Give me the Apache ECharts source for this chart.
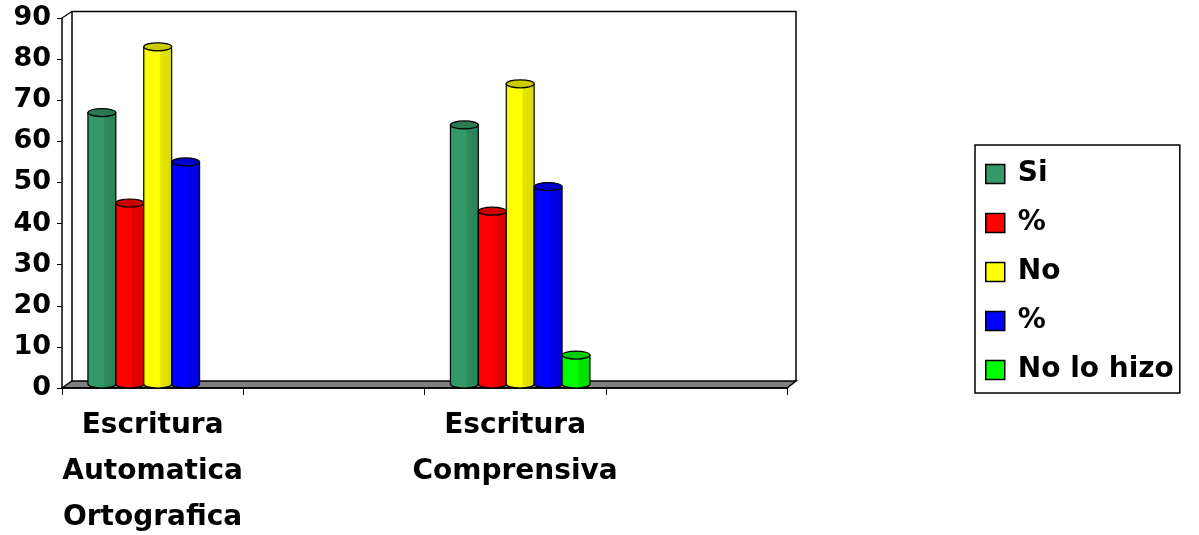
<!DOCTYPE html>
<html>
<head>
<meta charset="utf-8">
<script src="https://cdn.jsdelivr.net/npm/echarts@6/dist/echarts.min.js"></script>
<style>
html,body{margin:0;padding:0;background:#fff;}
#chart{width:1199px;height:535px;}
</style>
</head>
<body>
<div id="chart"></div>
<script>
// ---- data ----
const categories = ["Escritura\nAutomatica\nOrtografica", "", "Escritura\nComprensiva", ""];
// the two "%" series get distinct internal ids; the legend shows the plain label
const seriesNames = ["Si", "%", "No", "% ", "No lo hizo"];
const siValues = [67, null, 64, null];
const pctSiValues = [45, null, 43, null];
const noValues = [83, null, 74, null];
const pctNoValues = [55, null, 49, null];
const noLoHizoValues = [null, null, 8, null];
const yTicks = [0, 10, 20, 30, 40, 50, 60, 70, 80, 90];

// ---- styles / layout ----
const seriesData = [siValues, pctSiValues, noValues, pctNoValues, noLoHizoValues];
const colors = ["#339966", "#FF0000", "#FFFF00", "#0000FF", "#00FF00"];
const FONT = "DejaVu Sans";
const W = 1199, H = 535;
const GL = 62, GR = 787, GT = 18, GB = 388;
const DX = 10, DY = 7;

function shade(hex, f) {
  const n = parseInt(hex.slice(1), 16);
  const r = Math.round(((n >> 16) & 255) * f), g = Math.round(((n >> 8) & 255) * f), b = Math.round((n & 255) * f);
  return "rgb(" + r + "," + g + "," + b + ")";
}

const chart = echarts.init(document.getElementById("chart"), null, {renderer: "canvas"});

function makeRender(sIdx) {
  return function (params, api) {
    const v = api.value(1);
    if (v == null || isNaN(v)) return;
    const cat = api.value(0);
    const base = api.coord([cat, 0]);
    const top = api.coord([cat, v]);
    const catW = api.size([1, 0])[0];
    const w = catW * 0.154;
    const left = base[0] - catW / 2 + catW * 0.143 + sIdx * w;
    const rx = w / 2, ry = 4;
    const yb = base[1] - ry, yt = top[1];
    const c = colors[sIdx];
    const grad = new echarts.graphic.LinearGradient(0, 0, 1, 0, [
      {offset: 0, color: shade(c, 0.92)},
      {offset: 0.12, color: c},
      {offset: 0.55, color: c},
      {offset: 0.6, color: shade(c, 0.9)},
      {offset: 1, color: shade(c, 0.85)}
    ]);
    const body = "M" + left + "," + yt + " L" + left + "," + yb +
      " A" + rx + "," + ry + " 0 0 0 " + (left + w) + "," + yb +
      " L" + (left + w) + "," + yt + " Z";
    const cap = "M" + left + "," + yt + " A" + rx + "," + ry + " 0 1 1 " + (left + w) + "," + yt +
      " A" + rx + "," + ry + " 0 1 1 " + left + "," + yt + " Z";
    return {
      type: "group",
      children: [
        {type: "path", shape: {pathData: body}, style: {fill: grad, stroke: "#000", lineWidth: 1.2}},
        {type: "path", shape: {pathData: cap}, style: {fill: shade(c, 0.8), stroke: "#000", lineWidth: 1.2}}
      ]
    };
  };
}

const series = seriesNames.map(function (name, i) {
  return {
    type: "custom",
    name: name,
    renderItem: makeRender(i),
    itemStyle: {color: colors[i], borderColor: "#000", borderWidth: 1.5},
    encode: {x: 0, y: 1},
    data: seriesData[i].map(function (v, k) { return [k, v == null ? "-" : v]; }),
    z: 5
  };
});

chart.setOption({
  animation: false,
  backgroundColor: "#fff",
  grid: {left: GL, right: W - GR, top: GT, bottom: H - GB, containLabel: false, outerBoundsMode: "none"},
  xAxis: {
    type: "category",
    data: categories,
    boundaryGap: true,
    axisLine: {lineStyle: {color: "#000", width: 1.5}},
    axisTick: {show: true, length: 7, interval: 0, lineStyle: {color: "#000", width: 1}},
    axisLabel: {interval: 0, margin: 15, color: "#000", fontFamily: FONT, fontWeight: "bold", fontSize: 28, lineHeight: 46},
    splitLine: {show: false},
    z: 4
  },
  yAxis: {
    type: "value",
    min: yTicks[0],
    max: yTicks[yTicks.length - 1],
    interval: yTicks[1] - yTicks[0],
    axisLine: {show: true, lineStyle: {color: "#000", width: 1.5}},
    axisTick: {show: true, length: 5, lineStyle: {color: "#000", width: 1}},
    axisLabel: {margin: 11, color: "#000", fontFamily: FONT, fontWeight: "bold", fontSize: 27},
    splitLine: {show: false}
  },
  legend: {
    orient: "vertical",
    left: 975,
    top: 145,
    data: seriesNames.map(function (n) { return {name: n}; }),
    formatter: function (n) { return n.trim(); },
    icon: "rect",
    itemWidth: 19,
    itemHeight: 19,
    itemGap: 21,
    padding: [15, 6, 9, 10],
    borderColor: "#000",
    borderWidth: 1.5,
    selectedMode: false,
    itemStyle: {borderColor: "#000", borderWidth: 1.5},
    textStyle: {color: "#000", fontFamily: FONT, fontWeight: "bold", fontSize: 28, padding: [0, 0, 0, 8]}
  },
  graphic: [
    {type: "polyline", z: 0, shape: {points: [[GL + DX, GB - DY], [GL + DX, GT - 6.5], [GR + DX - 1, GT - 6.5], [GR + DX - 1, GB - DY]]},
      style: {stroke: "#000", lineWidth: 1.5, fill: null}},
    {type: "line", z: 0, shape: {x1: GL, y1: GT, x2: GL + DX, y2: GT - 6.5}, style: {stroke: "#000", lineWidth: 1.2}},
    {type: "polygon", z: 0, shape: {points: [[GL, GB], [GL + DX, GB - DY], [GR + DX - 1, GB - DY], [GR, GB]]},
      style: {fill: "#808080", stroke: "#000", lineWidth: 1.5}}
  ],
  series: series
});
</script>
</body>
</html>
